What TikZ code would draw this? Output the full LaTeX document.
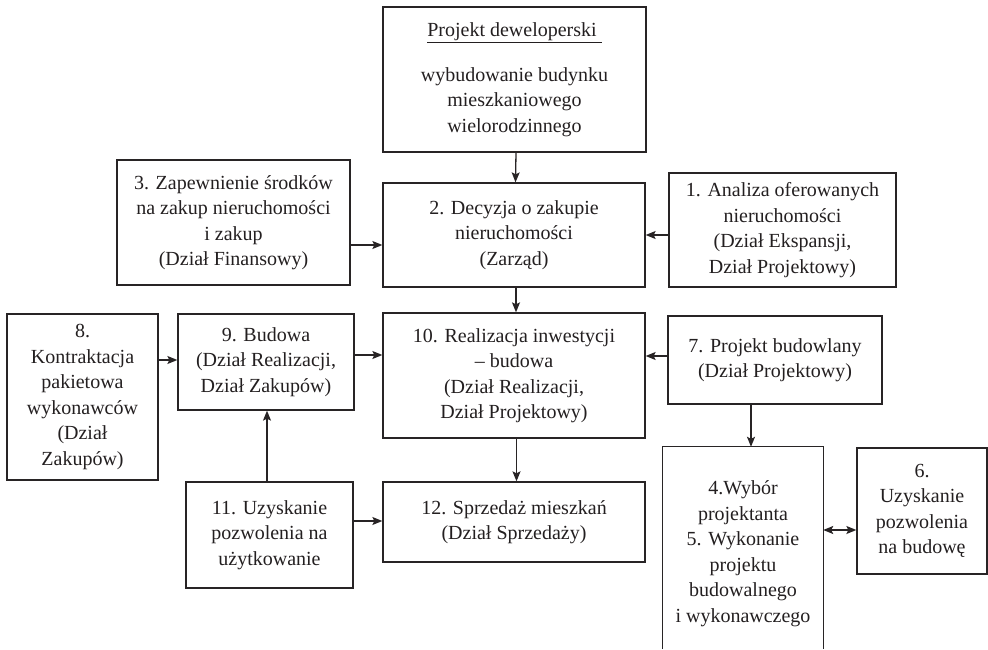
\documentclass[tikz,border=0pt]{standalone}
\usepackage{fontspec}
\setmainfont{Liberation Serif}
\usetikzlibrary{arrows.meta,calc}
\definecolor{linec}{RGB}{40,36,37}
\definecolor{textc}{RGB}{35,31,32}
\begin{document}
\begin{tikzpicture}[x=1pt,y=1pt,
 box/.style={draw=linec, line width=1.3pt, align=center, inner sep=0pt, text=textc, font=\fontsize{20}{25.5}\selectfont},
 txt/.style={align=center, inner sep=0pt, text=textc, font=\fontsize{20}{25.5}\selectfont},
 arr/.style={draw=linec, line width=1.3pt, -{Stealth[length=10pt,width=8pt,inset=2pt]}},
 dblarr/.style={draw=linec, line width=1.3pt, {Stealth[length=10pt,width=8pt,inset=2pt]}-{Stealth[length=10pt,width=8pt,inset=2pt]}},
]
\useasboundingbox (0,0) rectangle (988,649);
\coordinate (bot) at (0,0);

\node[box, minimum width=263, minimum height=145] (top) at (514.5,569.5)
 {\underline{Projekt deweloperski\ }\\[19pt] wybudowanie budynku\\ mieszkaniowego\\ wielorodzinnego};
\node[box, minimum width=262, minimum height=104] (b2) at (514,414)
 {2. Decyzja o zakupie\\ nieruchomości\\ (Zarząd)};
\node[box, minimum width=233, minimum height=125] (b3) at (233.5,426.5)
 {3. Zapewnienie środków\\ na zakup nieruchomości\\ i zakup\\ (Dział Finansowy)};
\node[box, minimum width=227, minimum height=114] (b1) at (782.5,419)
 {1. Analiza oferowanych\\ nieruchomości\\ (Dział Ekspansji,\\ Dział Projektowy)};
\node[box, minimum width=262, minimum height=125] (b10) at (514,273.5)
 {10. Realizacja inwestycji\\ – budowa\\ (Dział Realizacji,\\ Dział Projektowy)};
\node[box, minimum width=151, minimum height=166] (b8) at (82.5,252)
 {8.\\ Kontraktacja\\ pakietowa\\ wykonawców\\ (Dział\\ Zakupów)};
\node[box, minimum width=176, minimum height=96] (b9) at (266,287)
 {9. Budowa\\ (Dział Realizacji,\\ Dział Zakupów)};
\node[box, minimum width=214, minimum height=88] (b7) at (775,289)
 {7. Projekt budowlany\\ (Dział Projektowy)};
\node[txt, minimum width=160, minimum height=213] (b45) at (743,95.5)
 {4.Wybór\\ projektanta\\ 5. Wykonanie\\ projektu\\ budowalnego\\ i wykonawczego};
\draw[draw=linec, line width=1.3pt] (b45.west |- bot) -- (b45.north west) -- (b45.north east) -- (b45.east |- bot);
\node[box, minimum width=130, minimum height=126] (b6) at (922,138)
 {6.\\ Uzyskanie\\ pozwolenia\\ na budowę};
\node[box, minimum width=167, minimum height=106] (b11) at (269.5,114)
 {11. Uzyskanie\\ pozwolenia na\\ użytkowanie};
\node[box, minimum width=262, minimum height=80] (b12) at (514,127)
 {12. Sprzedaż mieszkań\\ (Dział Sprzedaży)};

\draw[arr] ([xshift=1.5pt]top.south) -- ([xshift=1.5pt]b2.north);
\draw[arr] ([yshift=-22.5pt]b3.east) -- ([yshift=-10pt]b2.west);
\draw[arr] ([yshift=-5pt]b1.west) -- (b2.east);
\draw[arr] ([xshift=2pt]b2.south) -- ([xshift=2pt]b10.north);
\draw[arr] ([yshift=37pt]b8.east) -- ([yshift=2pt]b9.west);
\draw[arr] ([yshift=7pt]b9.east) -- ([yshift=20.5pt]b10.west);
\draw[arr] ([yshift=4pt]b7.west) -- ([yshift=19.5pt]b10.east);
\draw[arr] ([xshift=-24pt]b7.south) -- ([xshift=8pt]b45.north);
\draw[dblarr] ([yshift=23.5pt]b45.east) -- ([yshift=-19pt]b6.west);
\draw[arr] ([xshift=-2.5pt]b11.north) -- ([xshift=1pt]b9.south);
\draw[arr] ([yshift=14pt]b11.east) -- ([yshift=1pt]b12.west);
\draw[arr] ([xshift=2.5pt]b10.south) -- ([xshift=2.5pt]b12.north);
\end{tikzpicture}
\end{document}
